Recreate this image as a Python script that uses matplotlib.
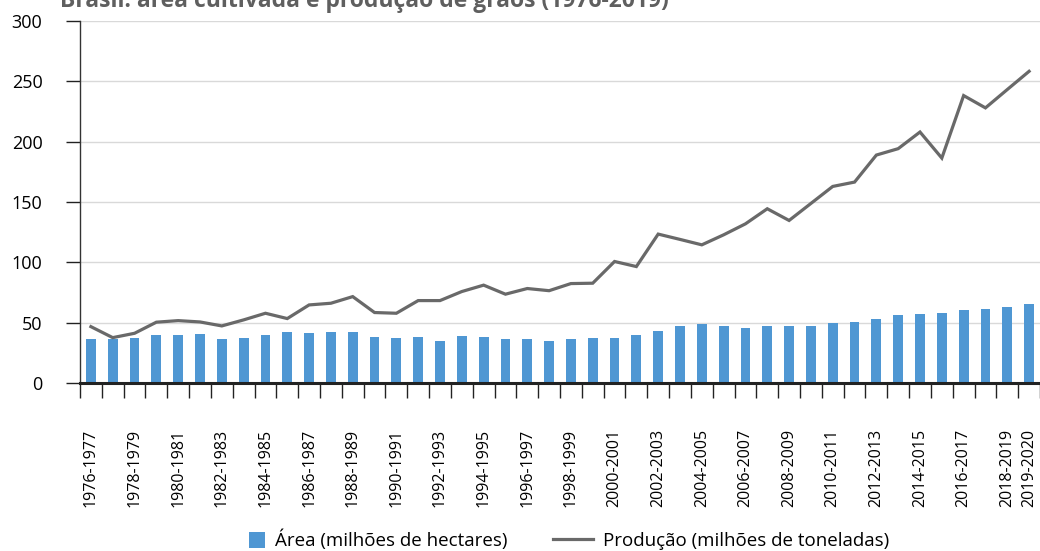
import matplotlib.pyplot as plt
import numpy as np
from matplotlib.lines import Line2D
from matplotlib.patches import Patch, Rectangle
from matplotlib.legend_handler import HandlerPatch

# safras 1976-1977 ... 2019-2020
safras = [f"{y}-{y + 1}" for y in range(1976, 2020)]

area = [36.8, 36.3, 37.1, 39.8, 39.8, 40.9, 36.8, 37.6, 39.6, 42.3,
        41.7, 42.3, 42.1, 38.4, 37.6, 38.2, 35.1, 38.8, 38.2, 36.5,
        36.3, 34.6, 36.5, 37.3, 37.3, 39.8, 43.4, 47.0, 48.7, 47.6,
        45.6, 47.0, 47.0, 47.0, 49.5, 50.4, 53.1, 56.7, 57.5, 57.8,
        60.6, 61.2, 62.8, 65.6]

producao = [46.7, 37.6, 41.2, 50.4, 51.7, 50.6, 47.3, 52.3, 57.8, 53.4,
            64.7, 66.1, 71.6, 58.4, 57.8, 68.3, 68.3, 75.8, 81.1, 73.6,
            78.3, 76.5, 82.4, 82.7, 100.7, 96.5, 123.4, 119.0, 114.5, 122.8,
            131.9, 144.4, 134.7, 148.8, 162.9, 166.5, 188.9, 194.2, 208.0, 186.4,
            238.2, 228.0, 243.2, 258.3]

label_idx = list(range(0, 43, 2)) + [43]

plt.rcParams['font.family'] = ['Open Sans', 'DejaVu Sans']

bar_color = '#4F97D3'
line_color = '#696969'


def square_patch(legend, orig_handle, xdescent, ydescent, width, height, fontsize):
    sq = height * 1.05
    return Rectangle((-xdescent + width - sq, -ydescent + (height - sq) / 2), sq, sq)


fig = plt.figure(figsize=(10.4, 5.51), dpi=100)
ax = fig.add_axes([80 / 1040, 1 - 383 / 551, 960 / 1040, 362 / 551])

x = np.arange(len(safras))
ax.bar(x, area, width=0.45, color=bar_color, zorder=2)
ax.plot(x, producao, color=line_color, lw=2.3, zorder=3, solid_joinstyle='miter')

ax.set_xlim(-0.5, len(safras) - 0.5)
ax.set_ylim(0, 300)
ax.set_yticks(np.arange(0, 301, 50))
ax.yaxis.grid(True, color='#D9D9D9', lw=1.0, zorder=0)
ax.set_axisbelow(True)

ax.set_xticks(label_idx)
ax.set_xticklabels([safras[i] for i in label_idx], rotation=90, fontsize=11.5)
ax.set_xticks(np.arange(-0.5, len(safras)), minor=True)
ax.tick_params(axis='x', which='major', length=0, pad=33)
ax.tick_params(axis='x', which='minor', length=11, width=1.0, color='#222222')
ax.tick_params(axis='y', length=10, width=1.0, color='#222222', labelsize=13, pad=17)

for s in ['top', 'right']:
    ax.spines[s].set_visible(False)
ax.spines['left'].set_color('#333333')
ax.spines['left'].set_linewidth(1.0)
ax.spines['bottom'].set_color('#222222')
ax.spines['bottom'].set_linewidth(2.2)
ax.spines['bottom'].set_zorder(4)

fig.text(60 / 1040, 1 - 7 / 551, 'Brasil: área cultivada e produção de grãos (1976-2019)',
         fontsize=16.5, fontweight='bold', color='#5F5F5F', va='baseline', ha='left')

handles = [Patch(facecolor=bar_color, edgecolor='none'),
           Line2D([0], [0], color=line_color, lw=2.3)]
fig.legend(handles, ['Área (milhões de hectares)', 'Produção (milhões de toneladas)'],
           loc='center', bbox_to_anchor=(557 / 1040, 1 - 540 / 551), ncol=2,
           frameon=False, fontsize=13.5, handlelength=2.15, handleheight=0.85,
           columnspacing=2.4, handletextpad=0.55,
           handler_map={Patch: HandlerPatch(patch_func=square_patch)})

fig.savefig('out.png', dpi=100)
